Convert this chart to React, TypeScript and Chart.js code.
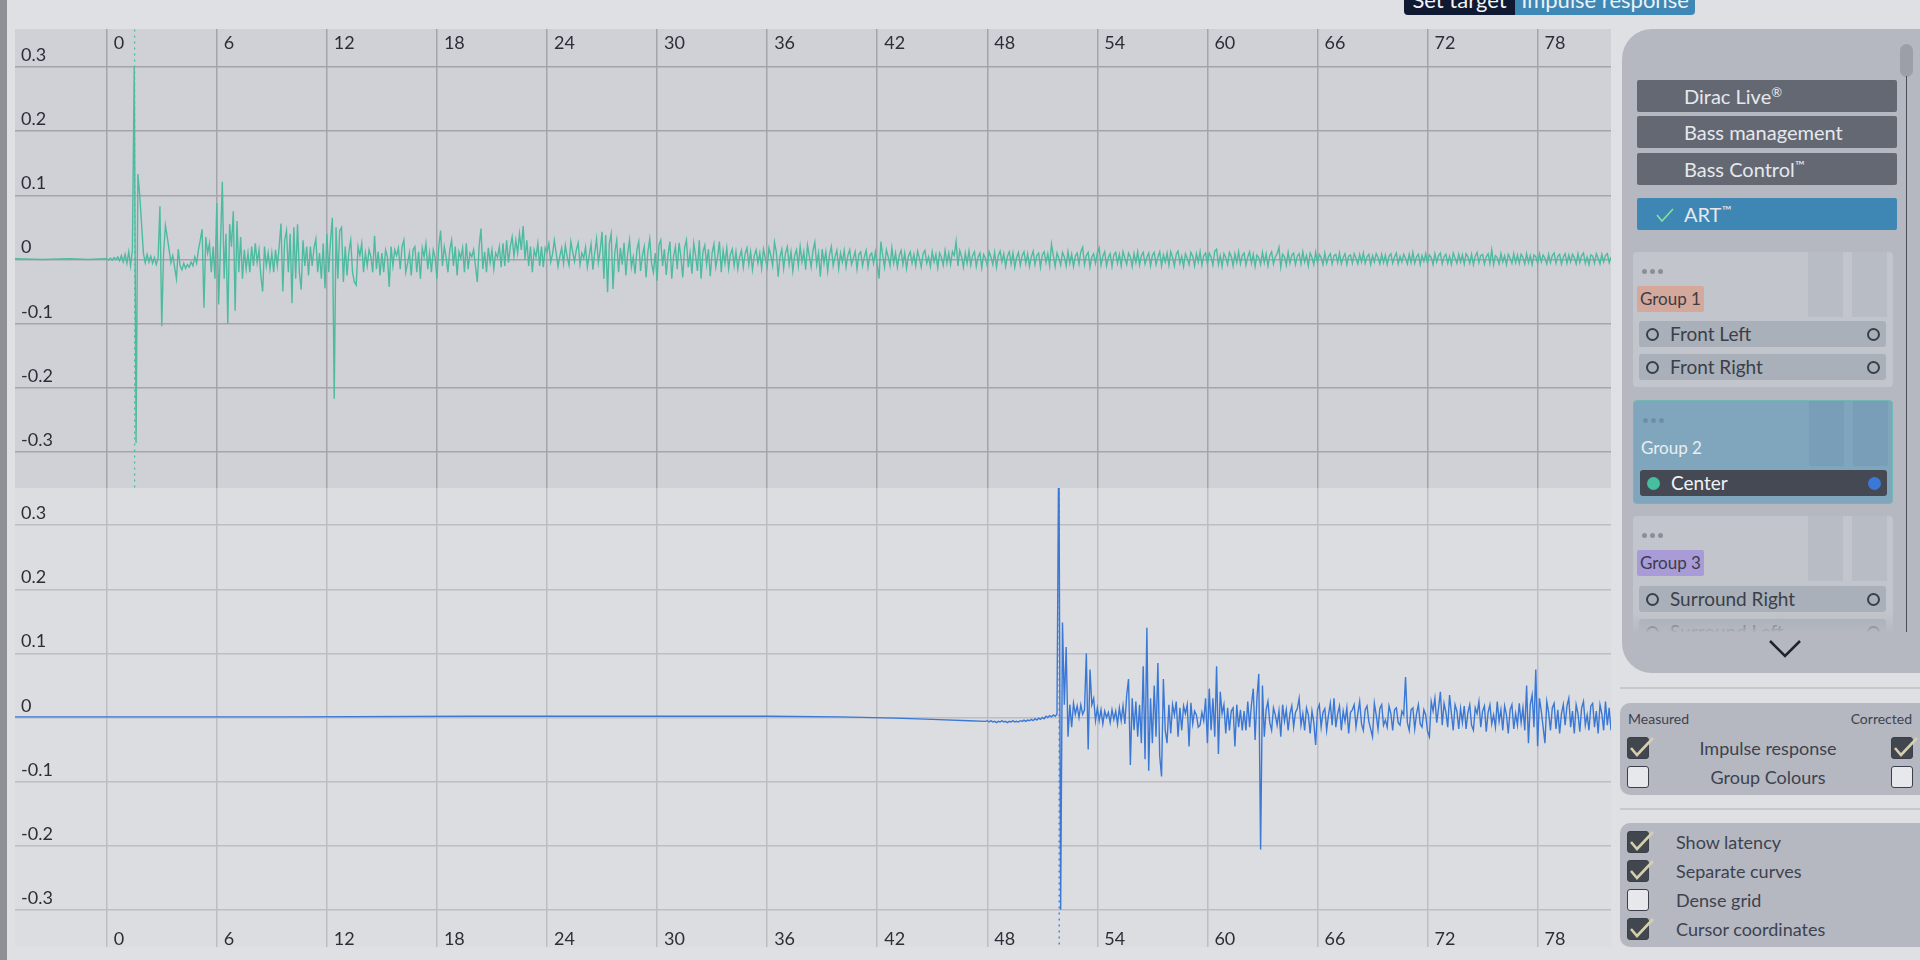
import React, { useEffect, useRef } from 'react';
import { Chart, registerables } from 'chart.js';

Chart.register(...registerables);

const FONT = 'Lato, "Noto Sans", sans-serif';
const TEXT = '#2b2f38';

// ---- axes ----
const X_MIN = -5;
const X_MAX = 82;
const X_STEP = 6;
const Y_STEP = 0.1;
const TOP_Y_MIN = -0.356;
const TOP_Y_MAX = 0.359;
const BOTTOM_Y_MIN = -0.358;
const BOTTOM_Y_MAX = 0.358;

// ---- measured impulse response (top, teal) ----
const measuredLeadTimes = [-5, -3.5, -2, -1, -0.1];
const measuredLeadValues = [0.001, 0.0, 0.001, 0.0, 0.001];
const MEASURED_EARLY_START = 0;
const MEASURED_EARLY_STEP = 0.1;
const measuredEarlyValues = [
  0.001, -0.001, 0.002, -0.001, 0.003, 0.0, 0.004, -0.002, 0.006, -0.004,
  0.008, -0.006, 0.012, -0.01, 0.015, 0.3, -0.286, 0.133, 0.1, 0.055,
  0.01, -0.005, 0.008, -0.004, 0.005, -0.006, 0.003, -0.008, 0.002, 0.083,
  -0.104, 0.01, 0.053, 0.035, 0.015, -0.005, 0.006, -0.012, -0.03, 0.016,
  -0.01, -0.016, -0.006, -0.014, -0.008, -0.012, -0.004, -0.01, 0.004, -0.006,
  0.015, 0.03, 0.047, -0.075, 0.035, 0.01, 0.025, -0.02, 0.02, -0.03,
  0.088, -0.07, 0.02, 0.121, -0.03, 0.04, -0.1, 0.055, 0.02, 0.075,
  -0.08, 0.06, -0.02, 0.035, -0.03, 0.015, -0.015, 0.01, -0.02, 0.02,
  -0.01, 0.025, -0.005, 0.015, -0.025, -0.05, 0.02, -0.01, 0.01, -0.015,
  0.01, -0.02, 0.015, -0.01, 0.02, 0.056, -0.05, 0.03, 0.045, -0.02,
  0.04, -0.068, 0.05, -0.03, 0.055, -0.02, -0.047, 0.03, -0.01, 0.02,
  -0.025, 0.02, -0.01, 0.018, 0.032, -0.02, 0.01, -0.03, 0.025, -0.045,
  0.04, -0.02, 0.03, 0.065, -0.217, 0.05, -0.03, 0.045, 0.05, -0.035,
  0.02, -0.025, 0.012, 0.03, -0.02, -0.035, -0.04, 0.02, 0.006, 0.025,
  -0.02, 0.01, -0.01, 0.015, 0.004, -0.02, 0.037, -0.015, 0.012, -0.025,
  0.01, -0.02, 0.015, 0.004, -0.043, 0.02, -0.01, 0.015, 0.006, 0.018,
  -0.015, 0.02, 0.03, -0.02, -0.006, 0.01, -0.025, 0.015, 0.02, -0.02,
  0.012, -0.03, 0.018, 0.004, 0.025, -0.015, 0.01, -0.02, 0.015, 0.003,
  -0.03, 0.02, 0.045, -0.01, 0.02, 0.004, -0.02, 0.015, 0.03, -0.01,
  0.02, -0.025, 0.012, 0.002, 0.018, -0.02, 0.025, -0.015, 0.01, 0.004,
  0.015, -0.01, -0.035, 0.02, 0.048, -0.015, 0.012, -0.02, 0.018, -0.005,
  0.015, -0.015, 0.01, 0.003, 0.02, -0.012, 0.025, -0.01, 0.03, -0.005,
  0.02, 0.035, 0.005, 0.03, 0.01, 0.04, 0.015, 0.052, 0.0, 0.03,
  -0.01, 0.02, -0.02, 0.015, 0.004, 0.025, -0.01, 0.02, -0.012, 0.018,
];
const MEASURED_LATE_START = 24;
const MEASURED_LATE_STEP = 0.1;
const measuredLateValues = [
  0.012, 0.025, -0.004, 0.008, 0.03, 0.01, -0.011, 0.005, 0.018, -0.006,
  0.022, 0.004, -0.009, 0.028, 0.012, -0.003, 0.015, 0.026, -0.008, 0.01,
  0.002, 0.019, -0.012, 0.006, 0.024, -0.016, 0.01, 0.032, -0.005, 0.014,
  0.043, -0.03, 0.038, -0.051, 0.025, 0.04, -0.046, 0.012, 0.03, -0.02,
  0.018, -0.008, 0.026, -0.025, 0.01, 0.03, -0.012, 0.004, -0.022, 0.015,
  0.028, -0.018, 0.006, 0.02, -0.028, 0.012, 0.032, -0.006, -0.02, 0.01,
  -0.033, 0.022, 0.03, -0.01, 0.016, -0.024, 0.008, 0.028, -0.03, 0.005,
  0.02, -0.015, 0.026, 0.004, -0.028, 0.018, 0.03, -0.012, 0.01, -0.022,
  0.025, 0.006, -0.018, 0.03, -0.03, 0.012, 0.022, -0.008, 0.016, -0.026,
  0.01, 0.024, -0.012, 0.004, 0.028, -0.02, 0.014, -0.006, 0.018, -0.014,
  0.008, 0.016, -0.01, 0.012, -0.015, 0.004, 0.014, -0.012, 0.009, 0.018,
  -0.008, 0.012, -0.016, 0.006, 0.015, -0.006, 0.01, -0.014, 0.016, 0.002,
  -0.012, 0.018, 0.006, -0.01, 0.027, 0.012, -0.027, 0.004, 0.016, -0.014,
  0.01, 0.02, -0.008, 0.012, -0.018, 0.006, 0.015, -0.01, 0.02, -0.004,
  0.012, -0.016, 0.022, 0.005, -0.012, 0.014, 0.027, -0.008, 0.01, -0.027,
  0.016, -0.006, 0.012, -0.018, 0.008, 0.02, -0.01, 0.004, 0.014, -0.014,
  0.01, -0.004, 0.014, -0.012, 0.006, 0.015, -0.008, 0.002, 0.012, -0.015,
  0.008, 0.012, -0.01, 0.004, 0.014, -0.012, 0.006, 0.01, -0.006, 0.012,
  -0.008, -0.03, 0.028, 0.006, -0.012, 0.015, 0.004, -0.01, 0.018, -0.006,
  0.01, -0.012, 0.006, 0.014, -0.008, 0.01, -0.014, 0.005, 0.012, -0.006,
  0.008, -0.01, 0.013, 0.002, -0.012, 0.009, 0.014, -0.006, 0.004, -0.011,
  0.012, -0.004, 0.008, -0.013, 0.01, 0.003, -0.009, 0.014, -0.006, 0.01,
  -0.008, 0.012, 0.006, 0.028, -0.01, 0.014, 0.004, -0.012, 0.01, -0.006,
  0.013, -0.009, 0.006, 0.012, -0.011, 0.004, 0.01, -0.013, 0.008, 0.002,
  -0.01, 0.012, 0.004, -0.008, 0.011, -0.012, 0.006, 0.013, -0.004, 0.009,
  -0.011, 0.005, 0.012, -0.007, 0.01, -0.012, 0.003, 0.011, -0.009, 0.006,
  0.012, -0.006, 0.009, -0.011, 0.004, 0.013, -0.008, 0.006, 0.01, -0.012,
  0.007, 0.012, -0.005, 0.009, -0.01, 0.024, 0.006, -0.011, 0.01, 0.002,
  -0.009, 0.011, 0.004, -0.01, 0.012, -0.006, 0.008, -0.011, 0.005, 0.01,
  -0.007, 0.012, 0.019, -0.008, 0.006, 0.011, -0.012, 0.004, 0.009, -0.006,
  0.01, 0.018, -0.009, 0.005, 0.012, -0.01, 0.003, 0.009, -0.011, 0.007,
  0.011, -0.006, 0.008, -0.01, 0.012, 0.002, -0.008, 0.01, 0.004, -0.011,
  0.009, -0.005, 0.012, -0.009, 0.006, 0.011, -0.007, 0.003, 0.01, -0.01,
  0.006, 0.011, -0.008, 0.004, 0.012, -0.01, 0.007, -0.004, 0.01, -0.009,
  0.012, 0.003, -0.01, 0.008, 0.013, -0.006, 0.005, -0.011, 0.009, 0.002,
  -0.008, 0.011, 0.005, -0.01, 0.009, -0.004, 0.012, -0.009, 0.006, 0.01,
  -0.007, 0.01, 0.004, -0.009, 0.013, 0.016, -0.008, 0.006, -0.011, 0.009,
  0.003, -0.008, 0.011, 0.005, -0.01, 0.009, -0.005, 0.012, -0.007, 0.006,
  0.01, -0.009, 0.004, 0.012, -0.006, 0.008, -0.011, 0.007, 0.003, -0.008,
  0.011, -0.005, 0.009, -0.01, 0.006, 0.012, -0.007, 0.004, 0.009, 0.019,
  -0.012, 0.008, 0.004, -0.009, 0.011, -0.006, 0.007, 0.01, -0.008, 0.005,
  0.009, -0.007, 0.012, -0.004, 0.006, -0.01, 0.01, 0.003, -0.008, 0.011,
  -0.005, 0.008, 0.003, -0.008, 0.01, -0.006, 0.004, 0.009, -0.007, 0.006,
  0.008, -0.005, 0.01, -0.007, 0.003, 0.009, -0.008, 0.005, 0.007, -0.006,
  0.009, 0.002, -0.007, 0.008, -0.004, 0.01, -0.006, 0.004, 0.008, -0.008,
  0.006, -0.004, 0.009, 0.003, -0.007, 0.008, -0.005, 0.007, -0.008, 0.005,
  0.009, -0.006, 0.004, 0.01, -0.007, 0.005, -0.004, 0.008, 0.002, -0.007,
  0.008, -0.005, 0.011, -0.006, 0.004, 0.008, -0.008, 0.006, -0.003, 0.009,
  -0.006, 0.007, 0.003, -0.008, 0.009, -0.004, 0.006, 0.01, -0.007, 0.004,
  0.008, -0.006, 0.005, -0.008, 0.01, 0.002, -0.006, 0.008, -0.004, 0.007,
  -0.007, 0.009, 0.004, -0.006, 0.008, -0.008, 0.005, 0.011, -0.005, 0.006,
  0.008, -0.007, 0.004, 0.009, -0.006, 0.015, -0.008, 0.006, 0.003, -0.007,
  0.009, -0.004, 0.006, -0.008, 0.008, 0.002, -0.006, 0.009, -0.005, 0.007,
  -0.006, 0.008, 0.003, -0.007, 0.009, -0.005, 0.006, -0.008, 0.007, 0.004,
  -0.006, 0.009, -0.004, 0.007, 0.002, -0.007, 0.008, -0.005, 0.006, 0.01,
  -0.006, 0.005, 0.008, -0.007, 0.004, 0.009, -0.006, 0.007, -0.004, 0.008,
  0.003, -0.007, 0.009, -0.005, 0.006, 0.01, -0.006, 0.004, -0.008, 0.007,
  0.005, -0.006, 0.009, 0.002, -0.007, 0.008, -0.004, 0.006, 0.009, -0.005,
  0.004,
];
const MEASURED_LATENCY = 1.52;

// ---- corrected impulse response (bottom, blue) ----
const correctedLeadTimes = [-5, 0, 10, 20, 30, 36, 40, 43, 45, 47, 47.9];
const correctedLeadValues = [0.001, 0.001, 0.001, 0.002, 0.002, 0.002, 0.001, -0.001, -0.003, -0.005, -0.006];
const CORRECTED_EARLY_START = 48;
const CORRECTED_EARLY_STEP = 0.1;
const correctedEarlyValues = [
  -0.005, -0.007, -0.005, -0.007, -0.006, -0.008, -0.006, -0.007, -0.005, -0.007,
  -0.006, -0.008, -0.006, -0.007, -0.005, -0.007, -0.006, -0.007, -0.005, -0.006,
  -0.004, -0.006, -0.004, -0.005, -0.003, -0.005, -0.002, -0.004, -0.001, -0.003,
  0.0, -0.002, 0.002, 0.0, 0.003, 0.001, 0.004, 0.002, 0.005, 0.45,
  -0.3, 0.148, 0.02, 0.11, -0.03, 0.02, -0.015, 0.022, 0.005, 0.018,
  0.0, 0.02, 0.005, 0.012, 0.1, -0.05, 0.075, 0.02, 0.03, -0.005,
  0.015, -0.005, 0.012, -0.01, 0.01, 0.0, 0.008, -0.008, 0.012, -0.003,
  0.01, -0.01, 0.015, -0.005, 0.018, -0.01, 0.035, 0.06, -0.074, 0.03,
  -0.02, 0.025, -0.03, 0.02, -0.04, 0.08, -0.065, 0.14, -0.083, 0.03,
  -0.04, 0.05, -0.03, 0.085, -0.06, -0.092, 0.06, -0.02, -0.04, 0.02,
  -0.025, 0.02, 0.004, 0.025, -0.03, 0.015, -0.02, 0.018, 0.006, 0.02,
  -0.045, 0.023, -0.01, 0.01, 0.004, -0.015, -0.012, 0.008, -0.005, 0.03,
  -0.04, 0.045, -0.02, 0.03, -0.03, 0.08, -0.057, 0.04, 0.006, 0.02,
  -0.025, 0.015, -0.02, 0.01, 0.015, -0.045, 0.02, -0.015, 0.012, -0.02,
  0.01, -0.02, 0.025, -0.015, 0.02, 0.045, -0.035, 0.03, 0.068, -0.206,
  0.05,
];
const CORRECTED_LATE_START = 63.1;
const CORRECTED_LATE_STEP = 0.1;
const correctedLateValues = [
  -0.03, 0.012, 0.025, -0.008, -0.02, 0.015, 0.004, -0.012, 0.01, -0.03,
  0.02, -0.006, 0.012, -0.02, 0.006, 0.018, -0.015, 0.008, 0.014, 0.03,
  -0.012, 0.006, -0.02, 0.015, 0.004, -0.025, 0.01, -0.008, -0.043, 0.012,
  0.02, -0.015, 0.008, 0.014, -0.02, 0.004, 0.022, -0.012, 0.03, -0.015,
  0.006, 0.018, -0.02, 0.01, -0.006, 0.015, -0.025, 0.008, 0.012, 0.02,
  -0.015, 0.006, 0.025, -0.01, -0.02, 0.012, 0.018, -0.006, -0.018, -0.03,
  0.022, 0.004, -0.018, 0.014, 0.02, -0.012, -0.004, -0.015, 0.018, 0.006,
  -0.02, 0.012, 0.015, -0.008, -0.012, 0.01, 0.004, 0.063, -0.008, -0.02,
  0.012, 0.015, -0.018, 0.006, 0.02, -0.01, -0.015, 0.012, 0.004, -0.022,
  -0.03, 0.025, 0.01, 0.03, -0.008, 0.015, 0.04, -0.012, 0.022, 0.008,
  -0.015, 0.035, 0.006, -0.02, 0.02, 0.01, -0.018, 0.014, -0.008, 0.018,
  -0.018, 0.008, 0.02, -0.012, -0.02, 0.015, 0.006, 0.025, -0.015, 0.01,
  0.018, -0.022, 0.008, 0.02, -0.01, 0.004, -0.015, 0.025, -0.006, 0.012,
  -0.02, 0.018, 0.004, -0.025, 0.012, 0.02, -0.018, 0.006, -0.012, 0.022,
  -0.008, 0.015, -0.02, 0.05, -0.04, 0.02, 0.035, -0.015, 0.075, -0.045,
  0.03, 0.01, -0.015, -0.04, 0.025, 0.008, -0.02, 0.015, 0.022, -0.018,
  0.012, -0.025, 0.006, 0.02, -0.012, 0.018, 0.03, -0.015, 0.01, -0.025,
  0.02, 0.006, -0.022, 0.015, 0.025, -0.012, 0.004, -0.02, 0.018, 0.022,
  -0.015, 0.01, -0.025, 0.02, 0.006, -0.02, 0.025, -0.012, 0.015, -0.02,
];
const CORRECTED_LATENCY = 51.92;

type Pt = { x: number; y: number };

function buildSeries(
  leadTimes: number[], leadValues: number[],
  earlyStart: number, earlyStep: number, earlyValues: number[],
  lateStart: number, lateStep: number, lateValues: number[],
): Pt[] {
  const pts: Pt[] = leadTimes.map((t, i) => ({ x: t, y: leadValues[i] }));
  earlyValues.forEach((v, i) => pts.push({ x: Math.round((earlyStart + i * earlyStep) * 1000) / 1000, y: v }));
  lateValues.forEach((v, i) => pts.push({ x: Math.round((lateStart + i * lateStep) * 1000) / 1000, y: v }));
  return pts;
}

const fmt = (v: number) => {
  const r = Math.round(v * 10) / 10;
  return r === 0 ? '0' : String(r);
};

function labelPlugin(xLabelsAtTop: boolean) {
  return {
    id: 'innerLabels',
    afterDraw(chart: any) {
      const { ctx, chartArea, scales } = chart;
      ctx.save();
      ctx.font = `18px ${FONT}`;
      ctx.fillStyle = TEXT;
      ctx.textAlign = 'left';
      ctx.textBaseline = 'alphabetic';
      scales.y.ticks.forEach((t: any) => {
        const py = scales.y.getPixelForValue(t.value);
        ctx.fillText(fmt(t.value), chartArea.left + 6, py - 6);
      });
      scales.x.ticks.forEach((t: any) => {
        const px = scales.x.getPixelForValue(t.value);
        const py = xLabelsAtTop ? chartArea.top + 20 : chartArea.bottom - 2;
        ctx.fillText(fmt(t.value), px + 7, py);
      });
      ctx.restore();
    },
  };
}

function ImpulseChart(props: {
  data: Pt[]; latency: number; color: string; yMin: number; yMax: number;
  gridColor: string; xLabelsAtTop: boolean; width: number; height: number;
}) {
  const ref = useRef<HTMLCanvasElement | null>(null);
  useEffect(() => {
    if (!ref.current) return;
    const chart = new Chart(ref.current, {
      type: 'line',
      data: {
        datasets: [
          {
            data: props.data as any,
            borderColor: props.color,
            borderWidth: 1.4,
            pointRadius: 0,
            tension: 0,
            fill: false,
          },
          {
            data: [{ x: props.latency, y: -1 }, { x: props.latency, y: 1 }] as any,
            borderColor: props.color,
            borderWidth: 1.3,
            borderDash: [2, 4],
            pointRadius: 0,
            fill: false,
          },
        ],
      },
      options: {
        animation: false,
        responsive: false,
        maintainAspectRatio: false,
        events: [],
        parsing: false,
        layout: { padding: 0 },
        plugins: { legend: { display: false }, tooltip: { enabled: false } },
        scales: {
          x: {
            type: 'linear',
            min: X_MIN,
            max: X_MAX,
            border: { display: false },
            grid: { color: props.gridColor, lineWidth: 1.5, drawTicks: false },
            ticks: { display: false, stepSize: X_STEP, includeBounds: false },
          },
          y: {
            type: 'linear',
            min: props.yMin,
            max: props.yMax,
            border: { display: false },
            grid: { color: props.gridColor, lineWidth: 1.5, drawTicks: false },
            ticks: { display: false, stepSize: Y_STEP, includeBounds: false },
          },
        },
      } as any,
      plugins: [labelPlugin(props.xLabelsAtTop)],
    });
    return () => chart.destroy();
  }, []);
  return <canvas ref={ref} width={props.width} height={props.height} style={{ display: 'block', width: props.width, height: props.height }} />;
}

const abs = (l: number, t: number, w: number, h: number, extra: React.CSSProperties = {}): React.CSSProperties => ({
  position: 'absolute', left: l, top: t, width: w, height: h, boxSizing: 'border-box', ...extra,
});

function CheckBox({ x, y, checked }: { x: number; y: number; checked: boolean }) {
  return (
    <div style={abs(x, y, 22, 22, { borderRadius: 3, border: '1.5px solid #3a3f4b', background: checked ? '#41464f' : '#e7e8eb' })}>
      {checked && (
        <svg width="26" height="26" viewBox="0 0 26 26" style={{ position: 'absolute', left: 0, top: -5, overflow: 'visible' }}>
          <path d="M3 15 L9 22 L25 5" fill="none" stroke="#d6cfad" strokeWidth="2.6" />
        </svg>
      )}
    </div>
  );
}

function Dots({ x, y, color }: { x: number; y: number; color: string }) {
  return (
    <div style={abs(x, y - 2, 24, 5)}>
      {[0, 8, 16].map((d) => (
        <div key={d} style={abs(d, 0, 5, 5, { borderRadius: 3, background: color })} />
      ))}
    </div>
  );
}

function ChannelRow({ y, label, dark, leftFill, rightFill }: { y: number; label: string; dark?: boolean; leftFill?: string; rightFill?: string }) {
  const ring = (cx: number, fill?: string) => (
    <div style={abs(cx - 6, 7, 13, 13, {
      borderRadius: '50%',
      border: fill ? 'none' : '2px solid #3a3f49',
      background: fill || 'transparent',
    })} />
  );
  return (
    <div style={abs(6, y, 247, 26, { borderRadius: 3, background: dark ? '#444953' : '#aab0b9' })}>
      {ring(13, leftFill)}
      <div style={abs(31, 0, 200, 26, { lineHeight: '26px', fontSize: 19, color: dark ? '#f1f2f4' : '#3a3f4a', whiteSpace: 'nowrap' })}>{label}</div>
      {ring(234, rightFill)}
    </div>
  );
}

function GroupBox(props: {
  y: number; h: number; bg: string; col: string; border?: string; dotColor: string;
  tagBg?: string; tagText: string; tagColor: string; children?: React.ReactNode;
}) {
  return (
    <div style={abs(11, props.y, 260, props.h, { background: props.bg, borderRadius: 4, border: props.border || 'none' })}>
      <div style={abs(175, 0, 35, 65, { background: props.col })} />
      <div style={abs(219, 0, 35, 65, { background: props.col })} />
      <Dots x={9} y={19} color={props.dotColor} />
      <div style={{
        position: 'absolute', left: 4, top: 34, height: 26, padding: '0 3px', background: props.tagBg || 'transparent',
        lineHeight: '26px', fontSize: 17, color: props.tagColor, whiteSpace: 'nowrap', borderRadius: 2,
      }}>{props.tagText}</div>
      {props.children}
    </div>
  );
}

function RightPanel() {
  const btn = (y: number, label: React.ReactNode, bg: string, check?: boolean) => (
    <div style={abs(15, y, 260, 32, { background: bg, borderRadius: 2 })}>
      {check && (
        <svg width="20" height="16" viewBox="0 0 20 16" style={{ position: 'absolute', left: 18, top: 9 }}>
          <path d="M2 8 L7 14 L18 2" fill="none" stroke="#8fdc9a" strokeWidth="1.6" />
        </svg>
      )}
      <div style={abs(47, 0, 210, 32, { lineHeight: '32px', fontSize: 20, color: '#e6e8ec', whiteSpace: 'nowrap' })}>{label}</div>
    </div>
  );
  const sup = (s: string) => <span style={{ fontSize: 13, position: 'relative', top: -7 }}>{s}</span>;
  return (
    <div style={abs(1622, 29, 310, 644, { background: '#b5b8c0', borderRadius: '30px 0 0 30px', overflow: 'hidden' })}>
      {/* scrollbar */}
      <div style={abs(278, 15, 13, 33, { background: '#9c9fa7', borderRadius: 7 })} />
      <div style={abs(283.5, 47, 1.5, 556, { background: '#4a4e57' })} />
      {btn(51, <span>Dirac Live{sup('®')}</span>, '#646873')}
      {btn(87, 'Bass management', '#646873')}
      {btn(124, <span>Bass Control{sup('™')}</span>, '#646873')}
      {btn(169, <span>ART{sup('™')}</span>, '#3e87b5', true)}
      {/* scroll viewport for groups */}
      <div style={abs(0, 215, 278, 388, { overflow: 'hidden' })}>
        <GroupBox y={8} h={135} bg="#c2c5cc" col="#b8bcc4" dotColor="#8b8e96" tagBg="#d4a89b" tagText="Group 1" tagColor="#3a3e48">
          <ChannelRow y={69} label="Front Left" />
          <ChannelRow y={102} label="Front Right" />
        </GroupBox>
        <GroupBox y={156} h={104} bg="#80a6bd" col="#789fb7" border="1px solid #73b7b3" dotColor="#6e8fa3" tagText="Group 2" tagColor="#e8eef2">
          <ChannelRow y={69} label="Center" dark leftFill="#47bf9f" rightFill="#3b79d9" />
        </GroupBox>
        <GroupBox y={272} h={140} bg="#c2c5cc" col="#b8bcc4" dotColor="#8b8e96" tagBg="#a99bd7" tagText="Group 3" tagColor="#3a3e48">
          <ChannelRow y={70} label="Surround Right" />
          <ChannelRow y={103} label="Surround Left" />
        </GroupBox>
        <div style={abs(0, 368, 278, 20, { background: 'linear-gradient(to bottom, rgba(181,184,192,0), rgba(181,184,192,0.95))' })} />
      </div>
      {/* chevron */}
      <svg width="34" height="20" viewBox="0 0 34 20" style={{ position: 'absolute', left: 146, top: 610 }}>
        <path d="M2 2 L17 17 L32 2" fill="none" stroke="#1f2430" strokeWidth="2.6" />
      </svg>
    </div>
  );
}

function BottomControls() {
  const label = (x: number, y: number, s: string, size: number, align: 'left' | 'center' | 'right' = 'left', w = 240) => (
    <div style={abs(align === 'center' ? x - w / 2 : align === 'right' ? x - w : x, y - 12, w, 24, {
      lineHeight: '24px', fontSize: size, color: '#3d4250', textAlign: align, whiteSpace: 'nowrap',
    })}>{s}</div>
  );
  return (
    <>
      <div style={abs(1620, 687, 300, 1.5, { background: '#c6c8cd' })} />
      <div style={abs(1620, 703, 310, 92, { background: '#b5b8c0', borderRadius: 10 })} />
      {label(1628, 719, 'Measured', 14)}
      {label(1912, 719, 'Corrected', 14, 'right')}
      <CheckBox x={1627} y={737} checked />
      {label(1768, 748, 'Impulse response', 18, 'center')}
      <CheckBox x={1891} y={737} checked />
      <CheckBox x={1627} y={766} checked={false} />
      {label(1768, 777, 'Group Colours', 18, 'center')}
      <CheckBox x={1891} y={766} checked={false} />
      <div style={abs(1620, 808, 300, 1.5, { background: '#c6c8cd' })} />
      <div style={abs(1620, 823, 310, 124, { background: '#b5b8c0', borderRadius: 10 })} />
      <CheckBox x={1627} y={831} checked />
      {label(1676, 842, 'Show latency', 18)}
      <CheckBox x={1627} y={860} checked />
      {label(1676, 871, 'Separate curves', 18)}
      <CheckBox x={1627} y={889} checked={false} />
      {label(1676, 900, 'Dense grid', 18)}
      <CheckBox x={1627} y={918} checked />
      {label(1676, 929, 'Cursor coordinates', 18)}
    </>
  );
}

export default function App() {
  const measured = buildSeries(
    measuredLeadTimes, measuredLeadValues,
    MEASURED_EARLY_START, MEASURED_EARLY_STEP, measuredEarlyValues,
    MEASURED_LATE_START, MEASURED_LATE_STEP, measuredLateValues,
  );
  const corrected = buildSeries(
    correctedLeadTimes, correctedLeadValues,
    CORRECTED_EARLY_START, CORRECTED_EARLY_STEP, correctedEarlyValues,
    CORRECTED_LATE_START, CORRECTED_LATE_STEP, correctedLateValues,
  );
  return (
    <div style={{ position: 'fixed', left: 0, top: 0, width: 1920, height: 960, overflow: 'hidden', background: '#dfe0e4', fontFamily: FONT }}>
      <div style={abs(0, 0, 7, 960, { background: '#8e9095' })} />
      {/* tabs at the top, cut off by the window */}
      <div style={abs(1404, 0, 111, 15, { background: '#0f1a32', borderRadius: '0 0 0 4px', overflow: 'hidden' })}>
        <div style={abs(0, -15, 111, 30, { lineHeight: '30px', fontSize: 22, color: '#f2f4f8', textAlign: 'center' })}>Set target</div>
      </div>
      <div style={abs(1515, 0, 180, 15, { background: '#3f87b4', borderRadius: '0 0 4px 0', overflow: 'hidden' })}>
        <div style={abs(0, -15, 180, 30, { lineHeight: '30px', fontSize: 22, color: '#eaf2f7', textAlign: 'center' })}>Impulse response</div>
      </div>
      <div style={abs(15, 29, 1596, 459, { background: '#d0d1d6' })}>
        <ImpulseChart data={measured} latency={MEASURED_LATENCY} color="#4dbba0" yMin={TOP_Y_MIN} yMax={TOP_Y_MAX}
          gridColor="#a3a5ab" xLabelsAtTop width={1596} height={459} />
      </div>
      <div style={abs(15, 488, 1596, 459, { background: '#dcdde1' })}>
        <ImpulseChart data={corrected} latency={CORRECTED_LATENCY} color="#3a78d6" yMin={BOTTOM_Y_MIN} yMax={BOTTOM_Y_MAX}
          gridColor="#bcbec4" xLabelsAtTop={false} width={1596} height={459} />
      </div>
      <RightPanel />
      <BottomControls />
    </div>
  );
}
